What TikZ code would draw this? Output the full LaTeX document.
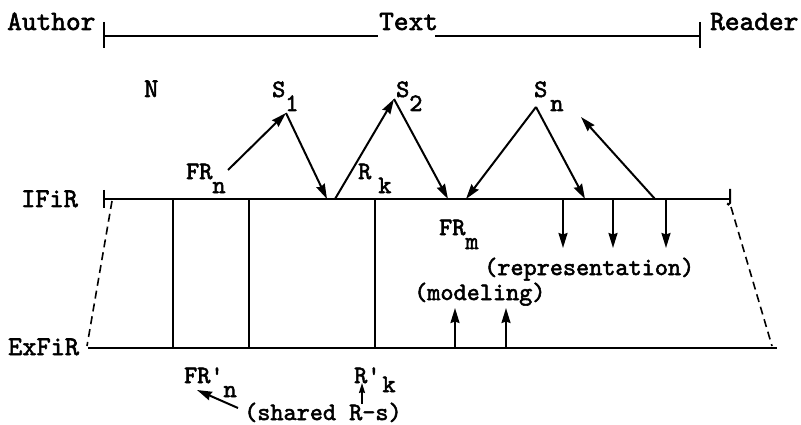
\documentclass[tikz,border=0pt]{standalone}
\usepackage{fontspec}
\newfontfamily\twfont{lmmono10-regular.otf}[FakeBold=2.2]
\usetikzlibrary{arrows.meta}
\newcommand\lo[1]{\raisebox{-14pt}{#1}}
\begin{document}
\begin{tikzpicture}[x=1pt,y=-1pt,
  lbl/.style={inner sep=0pt,anchor=base west,font=\fontsize{25}{25}\selectfont\twfont},
  big/.style={lbl,font=\fontsize{28}{28}\selectfont\twfont},
  mid/.style={lbl,font=\fontsize{27}{27}\selectfont\twfont},
  ln/.style={line width=2pt},
  arr/.style={line width=2pt,-{Stealth[length=15pt,width=9pt,inset=1.5pt]}},
  dsh/.style={line width=1.6pt,dash pattern=on 8pt off 5pt}]
\useasboundingbox (0,0) rectangle (801,425);
% top bar
\node[big] (author) at (7,30) {Author};
\node[big] (text) at (379,30) {Text};
\node[big] (reader) at (710,30) {Reader};
\coordinate (tl) at (104,36);
\coordinate (tr) at (700,36);
\coordinate (txl) at (378,36);
\coordinate (txr) at (435,36);
\draw[ln] (104,22) -- (104,48);
\draw[ln] (700,22) -- (700,48);
\draw[ln] (tl) -- (txl);
\draw[ln] (txr) -- (tr);
% labels
\node[mid] (N) at (144,97) {N};
\node[lbl] (S1) at (272,97) {S\lo{1}};
\node[lbl] (S2) at (396,97) {S\lo{2}};
\node[lbl] (Sn) at (534,97) {S\kern3pt\lo{n}};
\node[lbl] (FRn) at (186,179) {FR\lo{n}};
\node[lbl] (Rk) at (358,179) {R\kern7pt\lo{k}};
\node[lbl] (FRm) at (439,235) {FR\lo{m}};
\node[mid] (IFiR) at (21,207) {IFiR};
\node[mid] (ExFiR) at (8,355) {ExFiR};
\node[lbl] (rep) at (484,275) {(representation)};
\node[lbl] (mod) at (414,300) {(modeling)};
\node[lbl] (FRpn) at (184,383) {FR'\lo{n}};
\node[lbl] (Rpk) at (354,383) {R'\kern2pt\raisebox{-9pt}{k}};
\node[lbl] (shared) at (244,420) {(shared R-s)};
% IFiR and ExFiR lines
\coordinate (il) at (104,199);
\coordinate (ir) at (730,199);
\coordinate (el) at (88,348);
\coordinate (er) at (777,348);
\draw[ln] (il) -- (ir);
\draw[ln] (104,190) -- (104,208);
\draw[ln] (730,189) -- (730,203) arc[start angle=0,end angle=-160,radius=1.5pt];
\draw[ln] (el) -- (er);
\draw[dsh] (112,201) -- (87,346);
\draw[dsh] (731,207) -- (772,346);
% verticals
\foreach \x in {173,249,375} \draw[ln] (\x,199) -- (\x,348);
% apexes
\coordinate (a1) at (286,113);
\coordinate (a2) at (394,99);
\coordinate (an) at (536,107);
\coordinate (fnS) at (228,170);
\coordinate (b1) at (327,199);
\coordinate (b2) at (335,199);
\coordinate (b3) at (448,199);
\coordinate (b4) at (466,199);
\coordinate (b5) at (585,199);
\coordinate (b6) at (655,199);
\coordinate (c6) at (581,117);
\draw[arr] (fnS) -- (a1);
\draw[arr] (a1) -- (b1);
\draw[arr] (b2) -- (a2);
\draw[arr] (a2) -- (b3);
\draw[arr] (an) -- (b4);
\draw[arr] (an) -- (b5);
\draw[arr] (b6) -- (c6);
% representation arrows
\foreach \x in {563,613,666} \draw[arr] (\x,199) -- (\x,248);
% modeling arrows
\foreach \x in {455,506} \draw[arr] (\x,348) -- (\x,308);
% bottom arrows
\coordinate (s1) at (238,408);
\coordinate (s2) at (197,390);
\draw[arr] (s1) -- (s2);
\draw[line width=1.6pt,-{Stealth[length=10pt,width=6pt,inset=1pt]}] (362,404) -- (362,383);
\end{tikzpicture}
\end{document}
